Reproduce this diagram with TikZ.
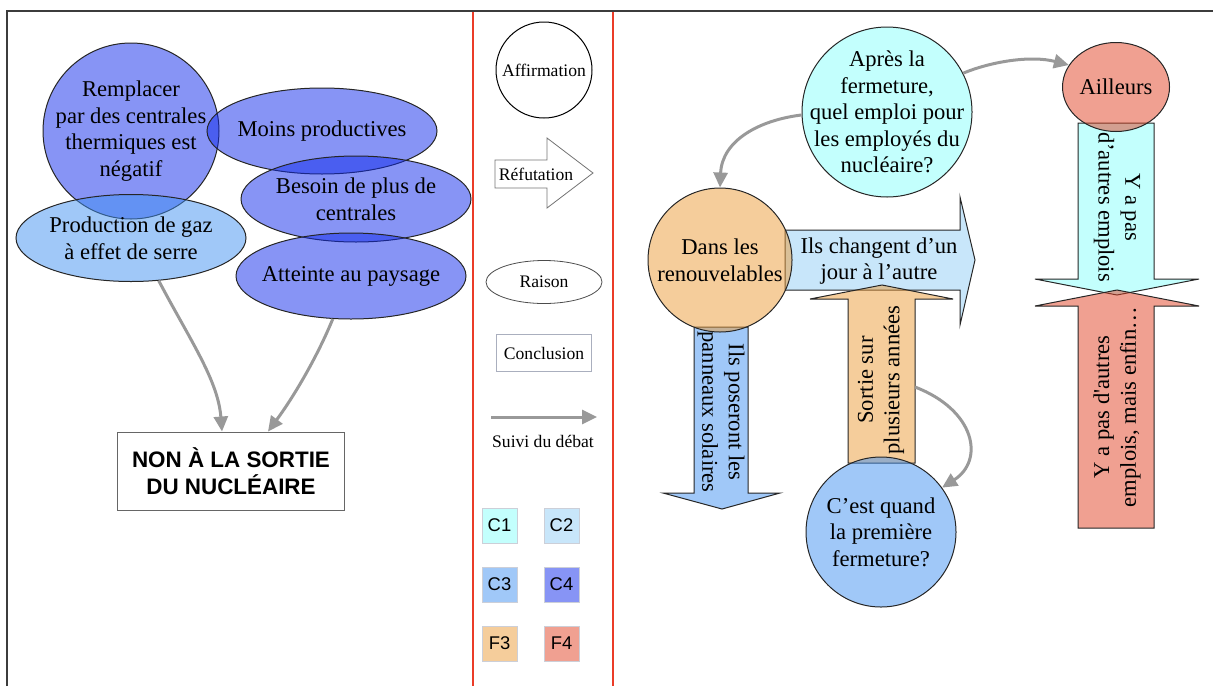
\documentclass[tikz,border=0pt]{standalone}
\usepackage{fontspec}
\setmainfont{Liberation Serif}
\setsansfont{Liberation Sans}
\usepackage{tikz}
\usetikzlibrary{shapes.geometric, arrows.meta, calc}
\definecolor{cOneFill}{HTML}{87FFFB}
\definecolor{cTwoFill}{HTML}{91CDF5}
\definecolor{cThreeFill}{HTML}{4191F1}
\definecolor{cFourFill}{HTML}{0F29EB}
\definecolor{fThreeFill}{HTML}{EB9B37}
\definecolor{fFourFill}{HTML}{E14123}
\definecolor{suiviGray}{HTML}{999999}
\definecolor{frameGray}{HTML}{3C3C3C}
\definecolor{panelRed}{HTML}{EB3C28}
\definecolor{legBorder}{HTML}{AAAFBE}

\begin{document}
\begin{tikzpicture}[
  x=0.5pt, y=-0.5pt,
  txt/.style={font=\fontsize{11.3}{13.3}\selectfont, align=center, text opacity=1, inner sep=0pt},
  legtxt/.style={font=\fontsize{8.8}{10}\selectfont, align=center, inner sep=0pt},
  bubble/.style={circle, draw=black!85, line width=0.5pt, fill opacity=0.5, inner sep=0pt},
  oval/.style={ellipse, draw=black!85, line width=0.5pt, fill opacity=0.5, inner sep=0pt},
  arrowbox/.style={draw=black!85, line width=0.5pt, fill opacity=0.5, line join=miter},
  c1/.style={fill=cOneFill}, c2/.style={fill=cTwoFill}, c3/.style={fill=cThreeFill},
  c4/.style={fill=cFourFill}, f3/.style={fill=fThreeFill}, f4/.style={fill=fFourFill},
  suivi/.style={draw=suiviGray, line width=1.5pt, -{Triangle[length=7.5pt,width=7pt]}},
  swatch/.style={rectangle, draw=legBorder!60, line width=0.4pt, fill opacity=0.5, text opacity=1,
    minimum size=17.5pt, inner sep=0pt, font=\sffamily\fontsize{9.2}{10}\selectfont},
  frameline/.style={draw=frameGray, line width=0.75pt},
  redline/.style={draw=panelRed, line width=1.25pt}
]
  \useasboundingbox (0,0) rectangle (1213,686);

  % Frame and panels
  \draw[frameline] (7,686) -- (7,11) -- (1213,11);
  \draw[redline] (473,12) -- (473,686);
  \draw[redline] (613,12) -- (613,686);

  % Left panel
  \node (remp) [bubble, c4, minimum size=88pt, label={[txt]center:Remplacer\\par des centrales\\thermiques est\\négatif}] at (131,131) {};
  \node (prod) [oval, c3, minimum width=115pt, minimum height=43.5pt, label={[txt]center:Production de gaz\\à effet de serre}] at (131,238) {};
  \node (moins) [oval, c4, minimum width=115pt, minimum height=43pt, label={[txt]center:Moins productives}] at (322,131) {};
  \node (besoin) [oval, c4, minimum width=115pt, minimum height=43pt, label={[txt]center:Besoin de plus de\\centrales}] at (356,199) {};
  \node (atteinte) [oval, c4, minimum width=115pt, minimum height=43pt, label={[txt]center:Atteinte au paysage}] at (351,276) {};
  \node (non) [rectangle, draw=black!60, line width=0.5pt, minimum width=113.5pt, minimum height=39pt, align=center,
    font=\sffamily\bfseries\fontsize{11.2}{13.5}\selectfont] at (231,471) {NON À LA SORTIE\\DU NUCLÉAIRE};

  \draw[suivi] (prod.-57) .. controls (190,340) and (218,380) .. ($(non.north)+(-9,0)$);
  \draw[suivi] (atteinte.-113) .. controls (318,355) and (295,395) .. ($(non.north)+(37,0)$);

  % Legend
  \node (affirm) [circle, draw=black, line width=0.5pt, minimum size=48pt, inner sep=0pt, legtxt] at (544,70) {Affirmation};
  \draw[draw=black!55, line width=0.4pt, line join=miter] (495,160) -- (547,160) -- (547,138) -- (593,173) -- (547,208) -- (547,188) -- (495,188) -- cycle;
  \node (refut) [legtxt] at (536,174) {Réfutation};
  \node (raison) [ellipse, draw=black!70, line width=0.4pt, minimum width=58pt, minimum height=21.5pt, inner sep=0pt, legtxt] at (544,282) {Raison};
  \node (conclu) [rectangle, draw=legBorder, line width=0.5pt, minimum width=47.5pt, minimum height=18.5pt, inner sep=0pt, legtxt] at (544,353) {Conclusion};
  \coordinate (suiviA) at (491,417);
  \coordinate (suiviB) at (597,417);
  \draw[suivi] (suiviA) -- (suiviB);
  \node (suiviLbl) [legtxt] at (543,441) {Suivi du débat};

  \node (swC1) [swatch, c1] at (499.5,525.5) {C1};
  \node (swC2) [swatch, c2] at (561.5,525.5) {C2};
  \node (swC3) [swatch, c3] at (499.5,584.5) {C3};
  \node (swC4) [swatch, c4] at (561.5,584.5) {C4};
  \node (swF3) [swatch, f3] at (499.5,643.5) {F3};
  \node (swF4) [swatch, f4] at (561.5,643.5) {F4};

  % Right panel: refutations
  \draw[arrowbox, c2] (785,230) -- (960,230) -- (960,197) -- (975,260) -- (960,325) -- (960,290) -- (785,290) -- cycle;
  \node (chg) [txt] at (879,261) {Ils changent d’un\\jour à l’autre};
  \draw[arrowbox, c3] (694,327) -- (748,327) -- (748,493) -- (780,493) -- (722,509) -- (663,493) -- (694,493) -- cycle;
  \node (pann) [txt, rotate=-90] at (721,412) {Ils poseront les\\panneaux solaires};
  \draw[arrowbox, f3] (848,463) -- (848,299) -- (810,299) -- (882,285) -- (953,299) -- (915,299) -- (915,463) -- cycle;
  \node (sortie) [txt, rotate=90] at (881,380) {Sortie sur\\plusieurs années};
  \draw[arrowbox, c1] (1078,123) -- (1154,123) -- (1154,279) -- (1199,279) -- (1117,295) -- (1035,279) -- (1078,279) -- cycle;
  \node (yapas) [txt, rotate=-90] at (1117,207) {Y a pas\\d’autres emplois};
  \draw[arrowbox, f4] (1078,528) -- (1078,306) -- (1035,306) -- (1117,290) -- (1199,306) -- (1154,306) -- (1154,528) -- cycle;
  \node (enfin) [txt, rotate=90] at (1117,407) {Y a pas d\textquotesingle autres\\emplois, mais enfin…};

  % Right panel: claims
  \node (apres) [bubble, c1, minimum size=85pt, label={[txt]center:Après la\\fermeture,\\quel emploi pour\\les employés du\\nucléaire?}] at (887,112) {};
  \node (renouv) [bubble, f3, minimum size=72pt, label={[txt]center:Dans les\\renouvelables}] at (720,260) {};
  \node (quand) [bubble, c3, minimum size=75pt, label={[txt]center:C’est quand\\la première\\fermeture?}] at (881,532) {};
  \node (ailleurs) [oval, f4, minimum width=53.5pt, minimum height=44.5pt, label={[txt]center:Ailleurs}] at (1116,87) {};

  % Connectors
  \coordinate (sortieR) at (915,387);
  \draw[suivi] (apres.182) .. controls (760,120) and (722,140) .. (renouv.north);
  \draw[suivi] (apres.27) .. controls (990,62) and (1030,55) .. (ailleurs.155);
  \draw[suivi] (sortieR) .. controls (975,410) and (985,460) .. (quand.36);
\end{tikzpicture}
\end{document}
